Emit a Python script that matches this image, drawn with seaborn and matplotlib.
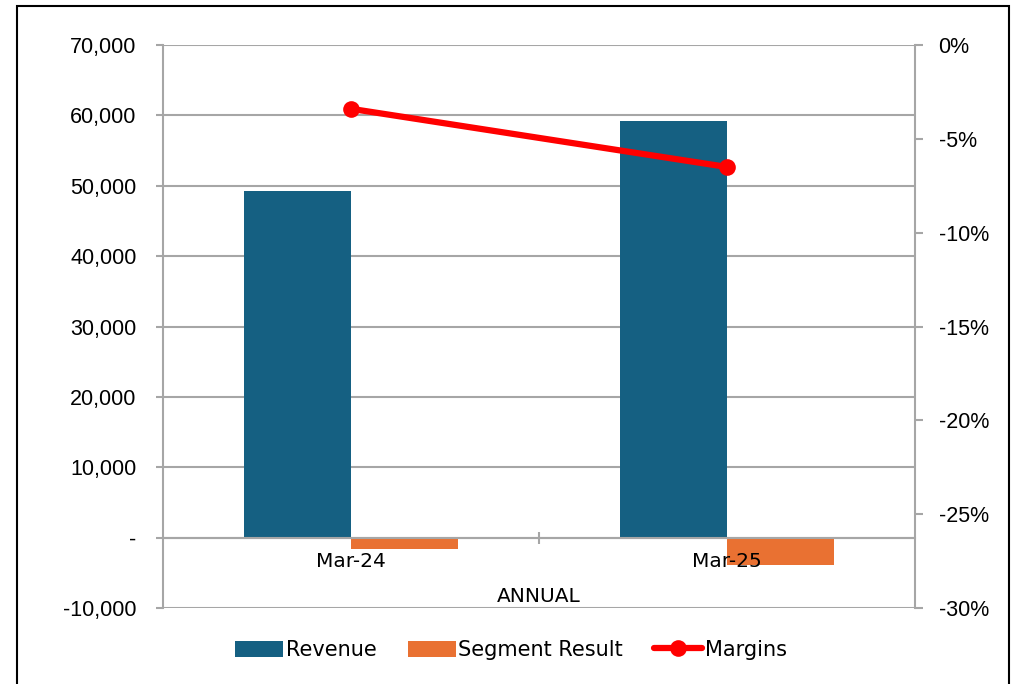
import numpy as np
import matplotlib
matplotlib.use('Agg')
import matplotlib.pyplot as plt
from matplotlib.ticker import FuncFormatter, FixedLocator
from matplotlib.patches import Rectangle
import pandas as pd
import seaborn as sns

# data
periods = ['Mar-24', 'Mar-25']
revenue = [49300, 59200]
segment_result = [-1560, -3840]
margins = [-0.034, -0.065]

sns.set_style('white')
plt.rcParams['font.family'] = ['Liberation Sans', 'DejaVu Sans']
plt.rcParams['text.color'] = 'black'
plt.rcParams['xtick.labelcolor'] = 'black'
plt.rcParams['ytick.labelcolor'] = 'black'

df = pd.DataFrame({
    'period': periods * 2,
    'value': revenue + segment_result,
    'series': ['Revenue'] * 2 + ['Segment Result'] * 2,
})

fig = plt.figure(figsize=(10.22, 6.84), dpi=100)
ax = fig.add_axes([163 / 1022, 1 - 608 / 684, (915 - 163) / 1022, (608 - 45) / 684])

grey = '#A6A6A6'
sns.barplot(data=df, x='period', y='value', hue='series', ax=ax, width=0.57,
            palette={'Revenue': '#156082', 'Segment Result': '#E97132'},
            linewidth=0, saturation=1, errorbar=None)

ax.set_ylim(-10000, 70000)
ax.set_xlim(-0.5, 1.5)
ax.set_yticks(np.arange(-10000, 70001, 10000))
ax.yaxis.set_major_formatter(FuncFormatter(lambda v, p: '-' if v == 0 else f'{v:,.0f}'))
ax.grid(axis='y', color=grey, linewidth=1.5)
ax.set_axisbelow(True)
ax.xaxis.set_zorder(5)  # category labels sit over the bars
ax.set_xlabel('')
ax.set_ylabel('')

for s in ['top', 'right']:
    ax.spines[s].set_visible(False)
ax.spines['left'].set_color(grey)
ax.spines['left'].set_linewidth(1.5)
ax.spines['bottom'].set_position(('data', 0))
ax.spines['bottom'].set_color(grey)
ax.spines['bottom'].set_linewidth(1.5)

ax.tick_params(axis='y', which='major', left=True, length=5, width=1.5, color=grey,
               pad=14, labelsize=15.5)
ax.tick_params(axis='x', which='major', length=0, pad=10)
for lab in ax.get_xticklabels():
    lab.set_fontfamily('DejaVu Sans')
    lab.set_fontsize(14.5)
ax.xaxis.set_minor_locator(FixedLocator([0.5]))
ax.tick_params(axis='x', which='minor', bottom=True, length=8, width=1.5,
               color=grey, direction='inout')
ax.text(0.5, 0.02, 'ANNUAL', transform=ax.transAxes, ha='center', va='center',
        fontsize=14.5, family='DejaVu Sans')

ax2 = ax.twinx()
sns.lineplot(x=[0, 1], y=margins, ax=ax2, color='#FF0000', linewidth=4.5,
             marker='o', markersize=12, markeredgewidth=0, label='Margins')
ax2.set_ylim(-0.30, 0)
ax2.set_yticks(np.arange(-0.30, 0.001, 0.05))
ax2.yaxis.set_major_formatter(FuncFormatter(lambda v, p: f'{round(v * 100) + 0:.0f}%'))
for s in ['top', 'left', 'bottom']:
    ax2.spines[s].set_visible(False)
ax2.spines['right'].set_color(grey)
ax2.spines['right'].set_linewidth(1.5)
ax2.tick_params(axis='y', right=True, length=6, width=1.5, color=grey, pad=11,
                labelsize=15.5)
ax2.set_ylabel('')

h1, l1 = ax.get_legend_handles_labels()
h2, l2 = ax2.get_legend_handles_labels()
ax.get_legend().remove()
ax2.get_legend().remove()
fig.legend(h1 + h2, l1 + l2, loc='center', bbox_to_anchor=(0.5, 1 - 650 / 684),
           ncol=3, frameon=False, prop={'family': 'DejaVu Sans', 'size': 15},
           handlelength=2.3, handleheight=0.8, handletextpad=0.12, columnspacing=1.5)

fig.patches.append(Rectangle((17 / 1022, -0.05), (1009 - 17) / 1022, 0.05 + 1 - 6 / 684,
                             transform=fig.transFigure, fill=False,
                             edgecolor='black', linewidth=1.5))

fig.savefig('out.png', dpi=100)
